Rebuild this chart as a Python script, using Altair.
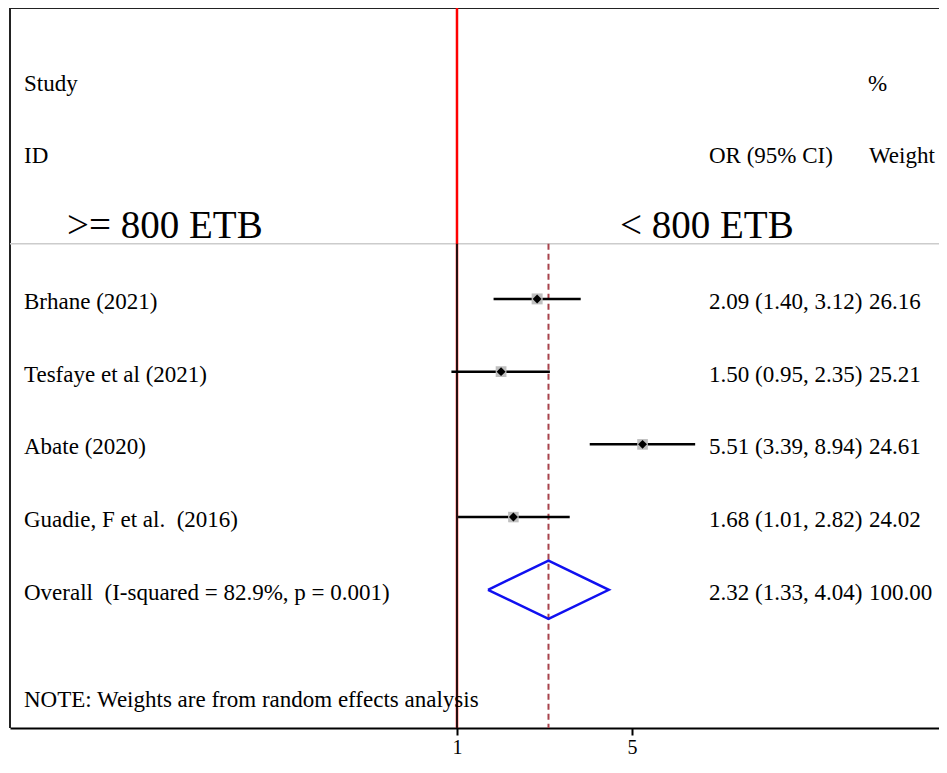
import altair as alt
import pandas as pd

# ---- data ----
studies = ["Brhane (2021)", "Tesfaye et al (2021)", "Abate (2020)", "Guadie, F et al.\u00a0 (2016)"]
or_est = [2.09, 1.50, 5.51, 1.68]
ci_low = [1.40, 0.95, 3.39, 1.01]
ci_high = [3.12, 2.35, 8.94, 2.82]
weights = [26.16, 25.21, 24.61, 24.02]

overall_label = ["Overall\u00a0 (I-squared = 82.9%, p = 0.001)"]
overall_est = [2.32]
overall_low = [1.33]
overall_high = [4.04]
overall_weight = [100.00]

note_text = "NOTE: Weights are from random effects analysis"
left_group = ">= 800 ETB"
right_group = "< 800 ETB"
tick_values = [1, 5]
null_value = 1

FONT = "Liberation Serif"
W, H = 929, 720
Y_BOTTOM = 6.9

# ---- tables built from the arrays ----
df = pd.DataFrame({"study": studies, "or": or_est, "lo": ci_low, "hi": ci_high, "w": weights})
df["row"] = range(1, len(df) + 1)
df["ci_text"] = [f"{o:.2f} ({l:.2f}, {h:.2f})" for o, l, h in zip(df["or"], df["lo"], df["hi"])]
df["w_text"] = [f"{w:.2f}" for w in df["w"]]

ov = pd.DataFrame({"study": overall_label, "or": overall_est, "lo": overall_low,
                   "hi": overall_high, "w": overall_weight})
ov["row"] = len(df) + 1
ov["ci_text"] = [f"{o:.2f} ({l:.2f}, {h:.2f})" for o, l, h in zip(ov["or"], ov["lo"], ov["hi"])]
ov["w_text"] = [f"{w:.2f}" for w in ov["w"]]

r = ov["row"].iloc[0]
half = 0.4
diamond = pd.DataFrame({
    "x": [ov["lo"].iloc[0], ov["or"].iloc[0], ov["hi"].iloc[0], ov["or"].iloc[0], ov["lo"].iloc[0]],
    "y": [r, r - half, r, r + half, r],
    "ord": [0, 1, 2, 3, 4],
})

one = pd.DataFrame({"k": [0]})

x_scale = alt.Scale(type="log", domain=[0.01639, 84.2], nice=False)
y_scale = alt.Scale(domain=[-3, Y_BOTTOM], reverse=True, nice=False, zero=False)

def X(field=None, **kw):
    if field is None:
        return alt.X(scale=x_scale, title=None, **kw)
    return alt.X(field, type="quantitative", scale=x_scale, title=None, **kw)

def Y(field=None, **kw):
    if field is None:
        return alt.Y(scale=y_scale, axis=None, **kw)
    return alt.Y(field, type="quantitative", scale=y_scale, axis=None, **kw)

x_axis = alt.Axis(values=tick_values, format="d", grid=False, title=None)

# frame (top + left); bottom is the x-axis domain
frame_top = alt.Chart(one).mark_rule(color="#222222", strokeWidth=2).encode(
    x=alt.value(0), x2=alt.value(W), y=alt.value(0))
frame_left = alt.Chart(one).mark_rule(color="#222222", strokeWidth=2).encode(
    x=alt.value(0), y=alt.value(0), y2=alt.value(H))
sep = alt.Chart(one).mark_rule(color="#cccccc", strokeWidth=1.5).encode(
    x=alt.value(0), x2=alt.value(W), y=Y(datum=0.24))

red_line = alt.Chart(one).mark_rule(color="#ff0000", strokeWidth=2.5).encode(
    x=X(datum=null_value, axis=x_axis), y=Y(datum=-3), y2=alt.Y2(datum=Y_BOTTOM))
black_line = alt.Chart(one).mark_rule(color="#111111", strokeWidth=1.8).encode(
    x=X(datum=null_value), y=Y(datum=0.24), y2=alt.Y2(datum=Y_BOTTOM))

dash_line = alt.Chart(ov).mark_rule(color="#a8434c", strokeWidth=2, strokeDash=[6, 4]).encode(
    x=X("or"), y=Y(datum=0.24), y2=alt.Y2(datum=Y_BOTTOM))

ci = alt.Chart(df).mark_rule(color="black", strokeWidth=2.5).encode(
    x=X("lo"), x2="hi", y=Y("row"))
boxes = alt.Chart(df).mark_square(color="#bfbfbf", opacity=1).encode(
    x=X("or"), y=Y("row"),
    size=alt.Size("w:Q", scale=alt.Scale(domain=[0, 100], range=[0, 460]), legend=None))
pts = alt.Chart(df).mark_point(shape="diamond", filled=True, color="black", size=80, opacity=1).encode(
    x=X("or"), y=Y("row"))

dia = alt.Chart(diamond).mark_line(color="#1010f0", strokeWidth=2.5).encode(
    x=X("x"), y=Y("y"), order="ord:Q")

FS = 23
txt = dict(font=FONT, fontSize=FS, color="black", align="left", baseline="alphabetic", dy=10)
allrows = pd.concat([df, ov], ignore_index=True)
lab_left = alt.Chart(allrows).mark_text(**txt).encode(x=alt.value(14), y=Y("row"), text="study:N")
lab_ci = alt.Chart(allrows).mark_text(**txt).encode(x=alt.value(699), y=Y("row"), text="ci_text:N")
lab_w = alt.Chart(allrows).mark_text(**txt).encode(x=alt.value(859), y=Y("row"), text="w_text:N")

def header(text, xpix, row, size=FS, dy=10):
    return alt.Chart(one).mark_text(font=FONT, fontSize=size, color="black", align="left",
                                    baseline="alphabetic", dy=dy, text=text).encode(
        x=alt.value(xpix), y=Y(datum=row))

h_study = header("Study", 14, -2)
h_id = header("ID", 14, -1)
h_pct = header("%", 858, -2)
h_or = header("OR (95% CI)", 699, -1)
h_wt = header("Weight", 859, -1)
h_left = header(left_group, 57, 0, size=39, dy=11.5)
h_right = header(right_group, 610, 0, size=39, dy=11.5)
h_note = header(note_text, 14, 6.47, dy=10)

chart = alt.layer(
    frame_top, frame_left, sep, red_line, black_line, dash_line,
    ci, boxes, pts, dia,
    lab_left, lab_ci, lab_w,
    h_study, h_id, h_pct, h_or, h_wt, h_left, h_right, h_note,
).properties(
    width=W, height=H, autosize="none",
    padding={"left": 2, "top": 0, "right": 0, "bottom": 30},
    background="white",
).configure_view(stroke=None).configure_axis(
    domainColor="black", domainWidth=2, tickColor="black", tickWidth=2, tickSize=7,
    labelFont=FONT, labelFontSize=20, labelColor="black", labelPadding=2,
)

chart.save("out.html", embed_options={"renderer": "svg", "actions": False})
